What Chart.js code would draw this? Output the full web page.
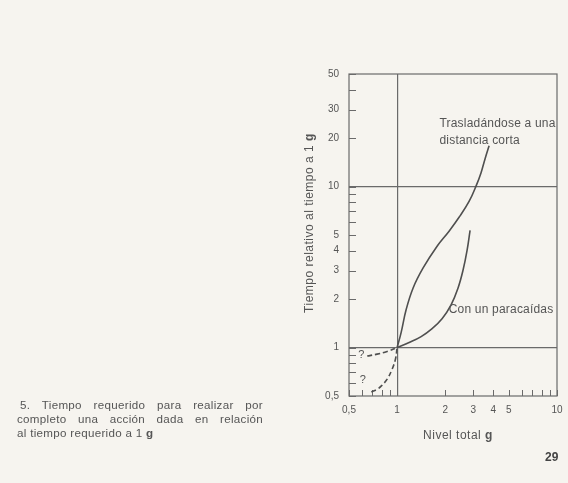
<!DOCTYPE html>
<html><head><meta charset="utf-8">
<script src="https://cdn.jsdelivr.net/npm/chart.js@4"></script>
<style>
html,body{margin:0;padding:0;background:#f6f4ef;}
#wrap{position:relative;width:568px;height:483px;overflow:hidden;background:#f6f4ef;}
canvas{position:absolute;left:0;top:0;}
.cap{position:absolute;left:17px;width:246px;font:11.6px "Liberation Sans",Arial,sans-serif;color:#555;letter-spacing:0.3px;white-space:nowrap;}
.j{text-align:justify;text-align-last:justify;white-space:normal;}
#pg{position:absolute;left:545px;top:450px;font:bold 12px "Liberation Sans",Arial,sans-serif;color:#444;}
</style></head>
<body><div id="wrap"><canvas id="c" width="568" height="483"></canvas>
<div class="cap j" style="top:398px;left:20px;width:243px;">5. Tiempo requerido para realizar por</div>
<div class="cap j" style="top:412px;">completo una acción dada en relación</div>
<div class="cap" style="top:426px;">al tiempo requerido a 1 <b>g</b></div>
<div id="pg">29</div></div>
<script>
// ---- data ----
const xTickValues = [0.5,0.6,0.7,0.8,0.9,1,2,3,4,5,6,7,8,9,10];
const xLabeled = [0.5,1,2,3,4,5,10];
const yTickValues = [0.5,0.6,0.7,0.8,0.9,1,2,3,4,5,6,7,8,9,10,20,30,40,50];
const yLabeled = [0.5,1,2,3,4,5,10,20,30,50];

// "Trasladándose a una distancia corta"
const shortDistX = [1, 1.059, 1.138, 1.259, 1.454, 1.778, 2.113, 2.44, 2.818, 3.12, 3.35, 3.55, 3.76];
const shortDistY = [1, 1.238, 1.717, 2.345, 3.12, 4.26, 5.28, 6.44, 8.08, 10.1, 12.2, 14.9, 17.9];

// "Con un paracaídas"
const parachuteX = [1, 1.189, 1.413, 1.655, 1.91, 2.175, 2.405, 2.585, 2.74, 2.86];
const parachuteY = [1, 1.074, 1.169, 1.31, 1.51, 1.843, 2.345, 3.03, 4.03, 5.35];

// uncertain (dashed) branches below 1 g
const unknownUpperX = [0.65, 0.75, 0.866, 1];
const unknownUpperY = [0.885, 0.91, 0.944, 1];
const unknownLowerX = [0.69, 0.75, 0.80, 0.866, 0.93, 0.976, 1];
const unknownLowerY = [0.53, 0.55, 0.58, 0.636, 0.733, 0.846, 1];

const FONT = "'Liberation Sans', Arial, sans-serif";
const INK = '#4f4f4f';
const LINE = '#6a6a6a';

const pts = (xs, ys) => xs.map((x, i) => ({x: x, y: ys[i]}));
const fmt = v => String(v).replace('.', ',');

function ds(xs, ys, dash) {
  return {data: pts(xs, ys), showLine: true, borderColor: INK, borderWidth: 1.6,
    pointRadius: 0, tension: 0.4, borderDash: dash || [], fill: false};
}

const framePlugin = {
  id: 'frame',
  beforeDatasetsDraw(chart) {
    const {ctx, chartArea: a, scales: {x, y}} = chart;
    ctx.save();
    ctx.strokeStyle = LINE;
    ctx.lineWidth = 1.2;
    ctx.strokeRect(a.left, a.top, a.right - a.left, a.bottom - a.top);
    ctx.lineWidth = 1;
    ctx.beginPath();
    yTickValues.forEach(v => {
      const py = Math.round(y.getPixelForValue(v)) + 0.5;
      ctx.moveTo(a.left, py); ctx.lineTo(a.left + 7, py);
    });
    xTickValues.forEach(v => {
      const px = Math.round(x.getPixelForValue(v)) + 0.5;
      ctx.moveTo(px, a.bottom); ctx.lineTo(px, a.bottom - 6);
    });
    ctx.stroke();
    ctx.restore();
  },
  afterDraw(chart) {
    const {ctx, scales: {x, y}} = chart;
    ctx.save();
    ctx.fillStyle = '#555';
    ctx.letterSpacing = '0.2px';
    ctx.font = '12px ' + FONT;
    ctx.textBaseline = 'middle';
    ctx.textAlign = 'left';
    // curve labels anchored in data space
    ctx.fillText('Trasladándose a una', x.getPixelForValue(1.84), y.getPixelForValue(24.5));
    ctx.fillText('distancia corta', x.getPixelForValue(1.84), y.getPixelForValue(19.4));
    ctx.fillText('Con un paracaídas', x.getPixelForValue(2.10), y.getPixelForValue(1.72));
    ctx.textAlign = 'center';
    ctx.font = '11px ' + FONT;
    ctx.fillText('?', x.getPixelForValue(0.597), y.getPixelForValue(0.90));
    ctx.fillText('?', x.getPixelForValue(0.61), y.getPixelForValue(0.633));
    // axis titles with bold g
    ctx.letterSpacing = '0.5px';
    ctx.textBaseline = 'alphabetic';
    ctx.textAlign = 'left';
    const normal = '12px ' + FONT, bold = 'bold 12px ' + FONT;
    function mixed(t1, t2, cx, cy, rot) {
      ctx.save();
      ctx.translate(cx, cy);
      if (rot) ctx.rotate(-Math.PI / 2);
      ctx.font = normal; const w1 = ctx.measureText(t1).width;
      ctx.font = bold; const w2 = ctx.measureText(t2).width;
      const s = -(w1 + w2) / 2;
      ctx.font = normal; ctx.fillText(t1, s, 0);
      ctx.font = bold; ctx.fillText(t2, s + w1, 0);
      ctx.restore();
    }
    mixed('Tiempo relativo al tiempo a 1 ', 'g', 313, 223, true);
    mixed('Nivel total ', 'g', 458, 439, false);
    ctx.restore();
  }
};

new Chart(document.getElementById('c'), {
  type: 'scatter',
  data: {datasets: [
    ds(shortDistX, shortDistY),
    ds(parachuteX, parachuteY),
    ds(unknownUpperX, unknownUpperY, [5, 3]),
    ds(unknownLowerX, unknownLowerY, [5, 3])
  ]},
  options: {
    responsive: false, animation: false,
    layout: {padding: {top: 74, right: 11, left: 0, bottom: 0}},
    plugins: {legend: {display: false}, tooltip: {enabled: false}},
    scales: {
      x: {
        type: 'logarithmic', min: 0.5, max: 10,
        afterBuildTicks: s => { s.ticks = xTickValues.map(v => ({value: v})); },
        afterFit: s => { s.height = 87; s.paddingLeft = 0; s.paddingRight = 0; },
        ticks: {autoSkip: false, maxRotation: 0, minRotation: 0, padding: 8, color: '#555',
          font: {family: FONT, size: 10},
          callback: v => xLabeled.includes(v) ? fmt(v) : ''},
        grid: {drawTicks: false, lineWidth: 1.2,
          color: c => (c.tick && c.tick.value === 1) ? LINE : 'transparent'},
        border: {display: false}
      },
      y: {
        type: 'logarithmic', min: 0.5, max: 50,
        afterBuildTicks: s => { s.ticks = yTickValues.map(v => ({value: v})); },
        afterFit: s => { s.width = 349; },
        ticks: {autoSkip: false, padding: 10, color: '#555',
          font: {family: FONT, size: 10},
          callback: v => yLabeled.includes(v) ? fmt(v) : ''},
        grid: {drawTicks: false, lineWidth: 1.2,
          color: c => (c.tick && (c.tick.value === 1 || c.tick.value === 10)) ? LINE : 'transparent'},
        border: {display: false}
      }
    }
  },
  plugins: [framePlugin]
});
</script>
</body></html>
